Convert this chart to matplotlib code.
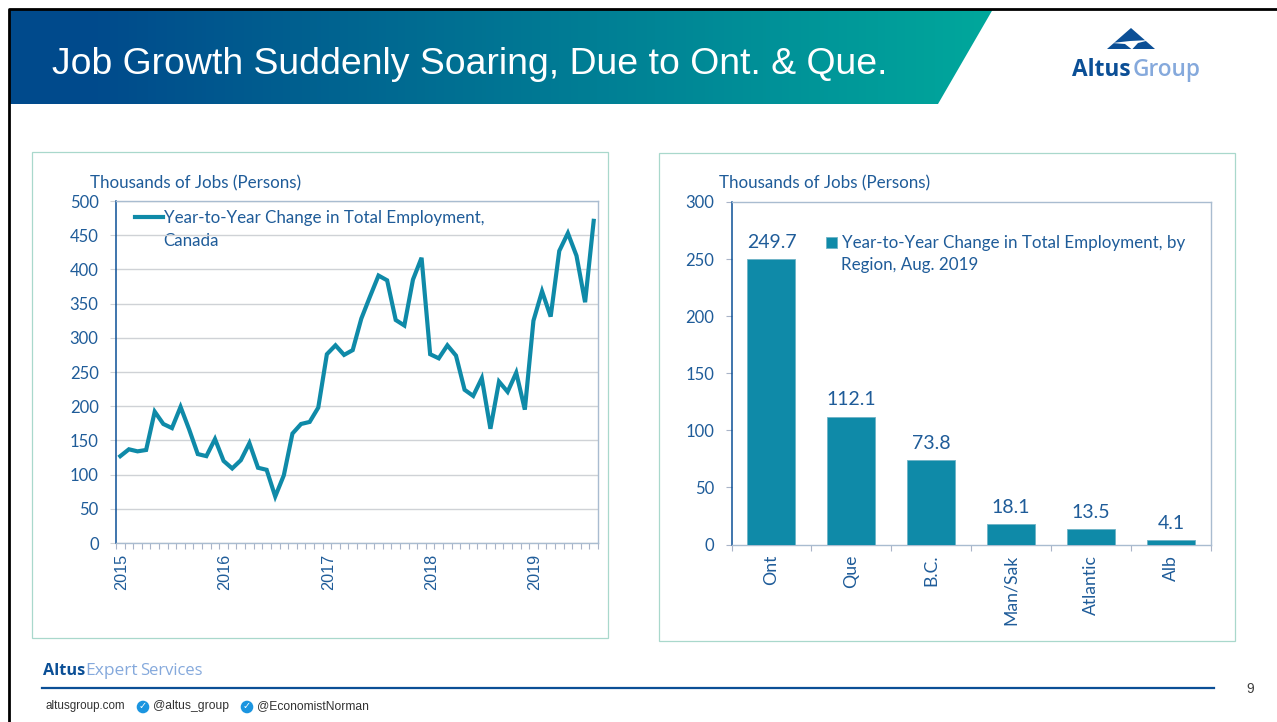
import numpy as np
import matplotlib
matplotlib.use('Agg')
import matplotlib.pyplot as plt
from matplotlib.patches import Polygon, Rectangle, Circle
from matplotlib.transforms import ScaledTranslation

W, H = 1277, 722

# dados
meses = np.arange(56)
emprego_canada = [127, 137, 134, 136, 192, 174, 168, 199, 166, 130, 127, 152,
                  120, 109, 121, 146, 110, 107, 68, 99, 160, 174, 177, 198,
                  276, 289, 275, 282, 328, 360, 391, 384, 326, 318, 385, 417,
                  276, 270, 289, 274, 224, 215, 241, 167, 236, 221, 249, 195,
                  325, 368, 331, 427, 453, 420, 352, 471]
anos = ['2015', '2016', '2017', '2018', '2019']
regioes = ['Ont', 'Que', 'B.C.', 'Man/Sak', 'Atlantic', 'Alb']
emprego_regiao = [249.7, 112.1, 73.8, 18.1, 13.5, 4.1]

AZUL = '#1f5c99'
TEAL = '#0f8aa8'
GRID = '#cfd2d6'
BORDA = '#a9d8cc'
CORPO = 'Lato'
ARIAL = 'Liberation Sans'
TAM = 12.25

fig = plt.figure(figsize=(W / 100, H / 100), dpi=100)


def eixo_px(x0, y0, x1, y1, **kw):
    # eixo a partir de pixels da imagem (y para baixo)
    return fig.add_axes([x0 / W, 1 - y1 / H, (x1 - x0) / W, (y1 - y0) / H], **kw)


"""FUNDO DO SLIDE"""
bg = fig.add_axes([0, 0, 1, 1])
bg.set_xlim(0, W)
bg.set_ylim(H, 0)
bg.axis('off')

# cabecalho em degrade
c0 = np.array([0x00, 0x4a, 0x8c]) / 255
c1 = np.array([0x00, 0xa8, 0x9c]) / 255
t = np.linspace(0, 1, 256)[None, :, None]
grad = c0 + (c1 - c0) * np.clip((t - 0.08) / 0.92, 0, 1)
img = bg.imshow(grad, extent=[10, 993, 104, 9], aspect='auto', zorder=1)
forma = Polygon([[10, 9], [993, 9], [938, 104], [10, 104]], transform=bg.transData,
                fc='none', ec='none')
bg.add_patch(forma)
img.set_clip_path(forma)
bg.set_xlim(0, W)
bg.set_ylim(H, 0)

# borda preta do slide
bg.plot([8.5, 8.5, 1277], [722, 8.5, 8.5], color='black', lw=2, zorder=3, solid_capstyle='butt')

bg.text(52, 65, 'Job Growth Suddenly Soaring, Due to Ont. & Que.', color='white',
        fontsize=26.95, family=ARIAL, va='center', ha='left', zorder=4)

# logo
bg.add_patch(Polygon([[1107, 49], [1131, 28], [1155, 49]], fc='#0b4f96', ec='none', zorder=4))
bg.add_patch(Polygon([[1112, 43], [1130, 41], [1150, 40], [1138, 43], [1132, 49.5], [1125, 44]],
                     fc='white', ec='none', zorder=5))
bg.text(1072, 70.5, 'Altus', color='#0b4f96', fontsize=16.3, family='Open Sans', weight='bold',
        va='center', ha='left', zorder=4)
bg.text(1133, 70.5, 'Group', color='#85a9dc', fontsize=16.3, family='Open Sans', weight='semibold',
        va='center', ha='left', zorder=4)

# molduras dos graficos
bg.add_patch(Rectangle((31.5, 151.5), 576, 486, fc='white', ec=BORDA, lw=0.9))
bg.add_patch(Rectangle((658.5, 152.5), 576, 488, fc='white', ec=BORDA, lw=0.9))

# rodape
bg.text(43, 671, 'Altus', color='#0b4f96', fontsize=11.7, family='Open Sans', weight='bold',
        va='center', ha='left')
bg.text(85, 671, 'Expert', color='#85a9dc', fontsize=12.5, family='Open Sans', va='center', ha='left')
bg.text(140, 671, 'Services', color='#85a9dc', fontsize=12, family='Open Sans', va='center', ha='left')
bg.plot([42, 1214], [688, 688], color='#0b4f96', lw=1.6)
bg.text(1250, 689, '9', color='#404040', fontsize=10, family=ARIAL, va='center', ha='center')
bg.text(45, 706.5, 'altusgroup.com', color='#333333', fontsize=8.4, family=ARIAL, va='center', ha='left')
bg.text(153, 706.5, '@altus_group', color='#333333', fontsize=8.7, family=ARIAL, va='center', ha='left')
bg.text(257, 706.5, '@EconomistNorman', color='#333333', fontsize=8.75, family=ARIAL, va='center', ha='left')
for cx in (143, 247):
    bg.add_patch(Circle((cx, 707), 6.3, fc='#1b95e0', ec='none'))
    bg.text(cx, 706.5, '\u2713', color='white', fontsize=7, family='DejaVu Sans', weight='bold',
            va='center', ha='center')

"""GRAFICO DA ESQUERDA"""
ax1 = eixo_px(116, 201, 598, 543)
ax1.patch.set_alpha(0)
ax1.plot(meses, emprego_canada, color=TEAL, lw=3, solid_joinstyle='miter',
         label='Year-to-Year Change in Total Employment,', zorder=3)
ax1.set_xlim(-0.5, 55.5)
ax1.set_ylim(0, 500)
ax1.set_yticks(np.arange(0, 501, 50))
ax1.grid(axis='y', color=GRID, lw=1)
ax1.set_axisbelow(True)
ax1.set_xticks(np.arange(-0.5, 56, 1))
ax1.set_xticklabels([])
ax1.set_xticks(np.arange(0, 56, 12), minor=True)
ax1.set_xticklabels(anos, minor=True, rotation=90, fontsize=11.7, family=ARIAL, color=AZUL)
ax1.tick_params(axis='x', which='major', length=4.5, width=0.8, color='#a9b4c8')
ax1.tick_params(axis='x', which='minor', length=0, pad=8)
ax1.tick_params(axis='y', length=4, width=0.8, color=GRID, pad=8.5, labelsize=12, labelcolor=AZUL)
# anos um pouco a direita do mes, depois do tick_params que reinicia o transform
for lb in ax1.get_xticklabels(minor=True):
    lb.set_transform(lb.get_transform() + ScaledTranslation(1.5 / 100, 0, fig.dpi_scale_trans))
for lb in ax1.get_yticklabels():
    lb.set_family(CORPO)
ax1.spines['left'].set_color('#0b4f96')
ax1.spines['left'].set_linewidth(1.1)
for s in ('top', 'right', 'bottom'):
    ax1.spines[s].set_color('#a9bcd0')
    ax1.spines[s].set_linewidth(1)
ax1.legend(loc='upper left', bbox_to_anchor=(0.04, 0.973), frameon=False, borderpad=0,
           borderaxespad=0, handlelength=1.65, handletextpad=0.06, labelspacing=0,
           prop={'family': CORPO, 'size': TAM}, labelcolor=AZUL)
bg.text(163, 241, 'Canada', color=AZUL, fontsize=TAM, family=CORPO, va='center', ha='left', zorder=6)
bg.text(90, 183.5, 'Thousands of Jobs (Persons)', color=AZUL, fontsize=TAM, family=CORPO,
        va='center', ha='left')

"""GRAFICO DA DIREITA"""
ax2 = eixo_px(731.5, 202, 1211, 544.5)
ax2.patch.set_alpha(0)
x = np.arange(len(regioes))
barras = ax2.bar(x, emprego_regiao, width=0.6, color=TEAL, edgecolor='#6fb3c6', lw=0.6,
                 label='Year-to-Year Change in Total Employment, by', zorder=3)
ax2.set_xlim(-0.5, 5.5)
ax2.set_ylim(0, 300)
ax2.set_yticks(np.arange(0, 301, 50))
ax2.set_xticks(np.arange(-0.5, 6, 1))
ax2.set_xticklabels([])
ax2.set_xticks(x, minor=True)
ax2.set_xticklabels(regioes, minor=True, rotation=90, fontsize=12.7, family=CORPO, color=AZUL)
ax2.tick_params(axis='x', which='major', length=4, width=0.8, color='#a9b4c8')
ax2.tick_params(axis='x', which='minor', length=0, pad=7.5)
ax2.tick_params(axis='y', length=4.5, width=0.8, color='#a9b4c8', pad=8, labelsize=12, labelcolor=AZUL)
for lb in ax2.get_yticklabels():
    lb.set_family(CORPO)
ax2.spines['left'].set_color('#0b4f96')
ax2.spines['left'].set_linewidth(1.1)
for s in ('top', 'right', 'bottom'):
    ax2.spines[s].set_color('#a9bcd0')
    ax2.spines[s].set_linewidth(1)
for b, v in zip(barras, emprego_regiao):
    ax2.annotate(f'{v:.1f}', (b.get_x() + b.get_width() / 2, v), xytext=(0, 5.8),
                 textcoords='offset points', ha='center', va='bottom',
                 fontsize=14, family=CORPO, color=AZUL)
ax2.legend(loc='upper left', bbox_to_anchor=(0.198, 0.903), frameon=False, borderpad=0,
           borderaxespad=0, handlelength=0.6, handleheight=0.6, handletextpad=0.3, labelspacing=0,
           prop={'family': CORPO, 'size': TAM}, labelcolor=AZUL)
bg.text(841, 265, 'Region, Aug. 2019', color=AZUL, fontsize=TAM, family=CORPO, va='center', ha='left', zorder=6)
bg.text(719, 183.5, 'Thousands of Jobs (Persons)', color=AZUL, fontsize=TAM, family=CORPO,
        va='center', ha='left')

fig.savefig('out.png', dpi=100)
